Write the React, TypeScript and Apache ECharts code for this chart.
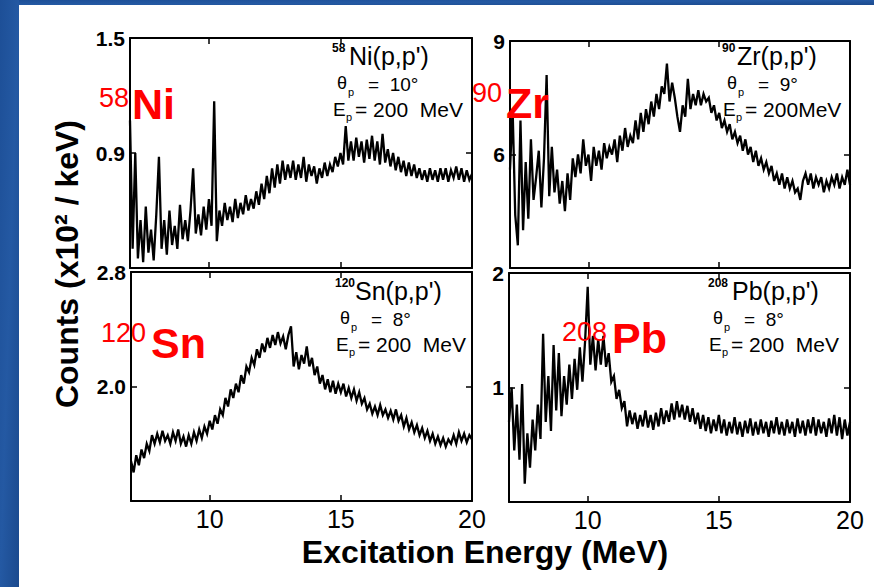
import React, { useEffect, useRef } from "react";
import * as echarts from "echarts";

// Excitation energy grid (MeV)
const energyMeV = [
  7.0, 7.1, 7.2, 7.3, 7.4, 7.5, 7.6, 7.7, 7.8, 7.9,
  8.0, 8.1, 8.2, 8.3, 8.4, 8.5, 8.6, 8.7, 8.8, 8.9,
  9.0, 9.1, 9.2, 9.3, 9.4, 9.5, 9.6, 9.7, 9.8, 9.9,
  10.0, 10.1, 10.2, 10.3, 10.4, 10.5, 10.6, 10.7, 10.8, 10.9,
  11.0, 11.1, 11.2, 11.3, 11.4, 11.5, 11.6, 11.7, 11.8, 11.9,
  12.0, 12.1, 12.2, 12.3, 12.4, 12.5, 12.6, 12.7, 12.8, 12.9,
  13.0, 13.1, 13.2, 13.3, 13.4, 13.5, 13.6, 13.7, 13.8, 13.9,
  14.0, 14.1, 14.2, 14.3, 14.4, 14.5, 14.6, 14.7, 14.8, 14.9,
  15.0, 15.1, 15.2, 15.3, 15.4, 15.5, 15.6, 15.7, 15.8, 15.9,
  16.0, 16.1, 16.2, 16.3, 16.4, 16.5, 16.6, 16.7, 16.8, 16.9,
  17.0, 17.1, 17.2, 17.3, 17.4, 17.5, 17.6, 17.7, 17.8, 17.9,
  18.0, 18.1, 18.2, 18.3, 18.4, 18.5, 18.6, 18.7, 18.8, 18.9,
  19.0, 19.1, 19.2, 19.3, 19.4, 19.5, 19.6, 19.7, 19.8, 19.9,
  20.0,
];

// 58Ni(p,p') counts (x10^2 / keV)
const ni58 = [
  1.07, 0.40, 0.90, 0.35, 0.55, 0.33, 0.62, 0.38, 0.50, 0.34,
  0.58, 0.88, 0.40, 0.55, 0.37, 0.60, 0.42, 0.52, 0.40, 0.63,
  0.45, 0.55, 0.44, 0.60, 0.82, 0.48, 0.58, 0.47, 0.62, 0.50,
  0.66, 0.52, 1.17, 0.44, 0.60, 0.52, 0.64, 0.55, 0.62, 0.54,
  0.66, 0.56, 0.64, 0.58, 0.68, 0.60, 0.66, 0.61, 0.70, 0.63,
  0.74, 0.66, 0.78, 0.69, 0.82, 0.72, 0.84, 0.74, 0.86, 0.76,
  0.84, 0.77, 0.86, 0.76, 0.84, 0.77, 0.88, 0.75, 0.84, 0.78,
  0.83, 0.74, 0.82, 0.77, 0.85, 0.78, 0.84, 0.80, 0.88, 0.83,
  0.90, 0.84, 1.04, 0.86, 0.96, 0.86, 0.98, 0.88, 0.96, 0.85,
  0.97, 0.87, 0.99, 0.86, 0.96, 0.84, 1.00, 0.85, 0.92, 0.83,
  0.90, 0.81, 0.88, 0.80, 0.86, 0.78, 0.85, 0.78, 0.84, 0.77,
  0.82, 0.76, 0.81, 0.75, 0.82, 0.76, 0.81, 0.75, 0.82, 0.76,
  0.82, 0.75, 0.81, 0.77, 0.83, 0.76, 0.82, 0.75, 0.81, 0.76,
  0.79,
];

// 90Zr(p,p') counts
const zr90 = [
  5.6, 7.2, 4.4, 3.6, 6.9, 4.0, 5.8, 4.3, 6.4, 4.8,
  5.4, 6.1, 4.6, 5.9, 8.1, 4.9, 6.2, 5.0, 5.6, 4.7,
  5.3, 4.5, 5.5, 4.8, 5.9, 5.4, 6.0, 5.5, 6.4, 5.7,
  6.0, 5.3, 6.2, 5.7, 6.1, 5.6, 6.3, 5.9, 6.2, 6.0,
  6.4, 5.8, 6.5, 6.1, 6.7, 6.2, 6.5, 6.3, 6.9, 6.4,
  7.1, 6.6, 7.2, 6.8, 7.4, 7.0, 7.6, 7.2, 7.8, 7.6,
  8.4, 7.4, 7.9, 7.5, 7.0, 6.6, 7.3, 7.0, 8.0, 7.2,
  7.6, 7.3, 7.7, 7.3, 7.6, 7.4, 7.5, 7.1, 7.3, 6.9,
  7.1, 6.7, 6.9, 6.6, 6.8, 6.4, 6.6, 6.3, 6.5, 6.1,
  6.4, 6.0, 6.2, 5.8, 6.1, 5.7, 5.9, 5.6, 5.8, 5.5,
  5.7, 5.3, 5.5, 5.2, 5.5, 5.1, 5.4, 5.1, 5.3, 5.0,
  5.1, 4.8, 5.3, 5.5, 5.2, 5.5, 5.1, 5.4, 5.2, 5.4,
  5.0, 5.3, 5.1, 5.4, 5.2, 5.5, 5.1, 5.4, 5.2, 5.6,
  5.2,
];

// 120Sn(p,p') counts
const sn120 = [
  1.48, 1.40, 1.52, 1.45, 1.56, 1.50, 1.60, 1.55, 1.66, 1.60,
  1.67, 1.61, 1.69, 1.62, 1.66, 1.60, 1.68, 1.62, 1.70, 1.60,
  1.65, 1.58, 1.66, 1.60, 1.68, 1.62, 1.70, 1.64, 1.72, 1.67,
  1.76, 1.70, 1.80, 1.74, 1.84, 1.80, 1.92, 1.86, 1.98, 1.92,
  2.02, 1.96, 2.08, 2.02, 2.14, 2.10, 2.20, 2.15, 2.26, 2.20,
  2.30, 2.24, 2.34, 2.27, 2.36, 2.29, 2.38, 2.30, 2.35, 2.26,
  2.36, 2.42, 2.14, 2.24, 2.12, 2.22, 2.16, 2.28, 2.14, 2.20,
  2.08, 2.14, 2.02, 2.08, 1.98, 2.05, 1.96, 2.04, 1.95, 2.02,
  1.96, 2.02, 1.93, 1.99, 1.92, 1.98, 1.90, 1.96, 1.88, 1.92,
  1.84, 1.88, 1.81, 1.86, 1.80, 1.87, 1.80, 1.84, 1.78, 1.83,
  1.77, 1.84, 1.76, 1.80, 1.72, 1.78, 1.70, 1.75, 1.68, 1.73,
  1.66, 1.71, 1.64, 1.69, 1.62, 1.67, 1.60, 1.65, 1.59, 1.64,
  1.58, 1.63, 1.60, 1.66, 1.60, 1.68, 1.62, 1.67, 1.61, 1.66,
  1.63,
];

// 208Pb(p,p') counts
const pb208 = [
  0.70, 1.00, 0.45, 0.85, 0.37, 1.03, 0.16, 0.60, 0.30, 0.72,
  0.45, 0.85, 0.55, 1.47, 0.70, 1.10, 0.62, 1.37, 0.80, 1.30,
  0.75, 1.10, 0.85, 1.20, 0.90, 1.25, 0.98, 1.35, 1.05, 1.40,
  1.88, 1.20, 1.45, 1.15, 1.42, 1.20, 1.45, 1.18, 1.30, 1.05,
  1.10, 0.90, 0.98, 0.82, 0.88, 0.66, 0.80, 0.68, 0.78, 0.64,
  0.76, 0.66, 0.80, 0.65, 0.76, 0.63, 0.78, 0.66, 0.82, 0.68,
  0.80, 0.70, 0.86, 0.72, 0.88, 0.74, 0.85, 0.72, 0.84, 0.70,
  0.82, 0.68, 0.78, 0.64, 0.76, 0.62, 0.74, 0.60, 0.72, 0.62,
  0.76, 0.60, 0.72, 0.58, 0.70, 0.60, 0.74, 0.59, 0.70, 0.57,
  0.71, 0.60, 0.73, 0.58, 0.70, 0.59, 0.72, 0.60, 0.70, 0.57,
  0.71, 0.60, 0.74, 0.59, 0.70, 0.58, 0.72, 0.60, 0.70, 0.57,
  0.73, 0.60, 0.71, 0.58, 0.72, 0.60, 0.74, 0.58, 0.72, 0.60,
  0.70, 0.57, 0.73, 0.60, 0.76, 0.58, 0.74, 0.55, 0.72, 0.58,
  0.70,
];

// Axis ticks / labels
const xTickValues = [10, 15];
const xLabelValues = [10, 15, 20];
const niYRange = [0.3, 1.5];
const zrYRange = [3, 9];
const snYRange = [1.2, 2.8];
const pbYRange = [0, 2];
const niYLabels = [0.9, 1.5];
const zrYLabels = [6, 9];
const snYLabels = [2.0, 2.8];
const pbYLabels = [1, 2];
const niYTicks = [0.9];
const zrYTicks = [6];
const snYTicks = [2.0];
const pbYTicks = [1];

const FONT = "'Liberation Sans', Arial, sans-serif";

function pairs(vals: number[]) {
  return energyMeV.map((e, i) => [e, vals[i]]);
}

function xAxisDef(gridIndex: number, position: string, showLabels: boolean) {
  return {
    type: "value",
    gridIndex,
    position,
    min: 7,
    max: 20,
    axisLine: { show: true, onZero: false, lineStyle: { color: "#000", width: 2 } },
    axisTick: { show: true, inside: true, length: 6, customValues: xTickValues, lineStyle: { color: "#000", width: 1.5 } },
    axisLabel: {
      show: showLabels,
      customValues: xLabelValues,
      color: "#000",
      fontFamily: "'Liberation Sans Narrow', " + FONT,
      fontSize: 25,
      margin: 5,
    },
    splitLine: { show: false },
  };
}

function yAxisDef(gridIndex: number, position: string, range: number[], labels: number[] | null, ticks: number[], decimals: number) {
  return {
    type: "value",
    gridIndex,
    position,
    min: range[0],
    max: range[1],
    axisLine: { show: true, onZero: false, lineStyle: { color: "#000", width: 2 } },
    axisTick: { show: true, inside: true, length: 6, customValues: ticks, lineStyle: { color: "#000", width: 1.5 } },
    axisLabel: labels
      ? {
          show: true,
          customValues: labels,
          color: "#000",
          fontFamily: FONT,
          fontWeight: "bold",
          fontSize: 21,
          margin: 5,
          formatter: (v: number) => v.toFixed(decimals),
        }
      : { show: false },
    splitLine: { show: false },
  };
}

function txt(x: number, y: number, text: string, fontSize: number, extra: any = {}) {
  return {
    type: "text",
    x,
    y,
    z: 100,
    style: {
      text,
      fontSize,
      fontFamily: extra.fontFamily || FONT,
      fontWeight: extra.fontWeight || "normal",
      fill: extra.fill || "#000",
      align: extra.align || "left",
      verticalAlign: "middle",
    },
    rotation: extra.rotation || 0,
  };
}

function annotation(x: number, y: number, isotope: string, reaction: string, angle: string, energy: string, dx: number) {
  return [
    txt(x, y - 8, isotope, 12, { fontWeight: "bold" }),
    txt(x + dx, y, reaction, 25),
    txt(x + 5, y + 27, "θ", 18),
    txt(x + 16, y + 36, "p", 11),
    txt(x + 36, y + 28, angle, 19),
    txt(x + 1, y + 53, "E", 19),
    txt(x + 14, y + 61, "p", 11),
    txt(x + 23, y + 53, energy, 21),
  ];
}

export default function App() {
  const ref = useRef<HTMLDivElement>(null);

  useEffect(() => {
    if (!ref.current) return;
    const chart = echarts.init(ref.current, null, { renderer: "svg" });
    const grids = [
      { left: 130, top: 38, width: 342, height: 230 },
      { left: 510, top: 41, width: 340, height: 227 },
      { left: 131, top: 272, width: 341, height: 229 },
      { left: 509, top: 273, width: 341, height: 229 },
    ];
    const seriesData = [ni58, zr90, sn120, pb208];
    const blue = {
      type: "linear", x: 0, y: 0, x2: 1, y2: 1,
      colorStops: [
        { offset: 0, color: "#1d4f97" },
        { offset: 0.5, color: "#2459a3" },
        { offset: 1, color: "#1b4a8e" },
      ],
    };
    const graphic: any[] = [
      { type: "rect", shape: { x: 0, y: 0, width: 874, height: 5 }, style: { fill: blue }, z: 0 },
      { type: "rect", shape: { x: 0, y: 0, width: 19, height: 587 }, style: { fill: blue }, z: 0 },
      txt(67, 264, "Counts (x10² / keV)", 32, { fontWeight: "bold", align: "center", rotation: Math.PI / 2 }),
      txt(485, 552, "Excitation Energy (MeV)", 32, { fontWeight: "bold", align: "center" }),
      // red isotope labels
      txt(99, 98, "58", 27, { fill: "#ff0000" }),
      txt(132, 104, "Ni", 43, { fill: "#ff0000", fontWeight: "bold" }),
      txt(472, 93, "90", 27, { fill: "#ff0000" }),
      txt(506, 103, "Zr", 43, { fill: "#ff0000", fontWeight: "bold" }),
      txt(101, 333, "120", 27, { fill: "#ff0000" }),
      txt(151, 343, "Sn", 43, { fill: "#ff0000", fontWeight: "bold" }),
      txt(562, 332, "208", 27, { fill: "#ff0000" }),
      txt(612, 338, "Pb", 43, { fill: "#ff0000", fontWeight: "bold" }),
      ...annotation(332, 56, "58", "Ni(p,p')", "=  10°", "= 200  MeV", 17),
      ...annotation(722, 56, "90", "Zr(p,p')", "=  9°", "= 200MeV", 15),
      ...annotation(335, 291, "120", "Sn(p,p')", "=  8°", "= 200  MeV", 20),
      ...annotation(708, 291, "208", "Pb(p,p')", "=  8°", "= 200  MeV", 24),
    ];

    const option: any = {
      animation: false,
      backgroundColor: "#ffffff",
      grid: grids.map((g) => ({ ...g, containLabel: false })),
      xAxis: [
        xAxisDef(0, "bottom", false),
        xAxisDef(1, "bottom", false),
        xAxisDef(2, "bottom", true),
        xAxisDef(3, "bottom", true),
        xAxisDef(0, "top", false),
        xAxisDef(1, "top", false),
        xAxisDef(2, "top", false),
        xAxisDef(3, "top", false),
      ],
      yAxis: [
        yAxisDef(0, "left", niYRange, niYLabels, niYTicks, 1),
        yAxisDef(1, "left", zrYRange, zrYLabels, zrYTicks, 0),
        yAxisDef(2, "left", snYRange, snYLabels, snYTicks, 1),
        yAxisDef(3, "left", pbYRange, pbYLabels, pbYTicks, 0),
        yAxisDef(0, "right", niYRange, null, niYTicks, 1),
        yAxisDef(1, "right", zrYRange, null, zrYTicks, 0),
        yAxisDef(2, "right", snYRange, null, snYTicks, 1),
        yAxisDef(3, "right", pbYRange, null, pbYTicks, 0),
      ],
      series: seriesData.map((vals, i) => ({
        type: "line",
        xAxisIndex: i,
        yAxisIndex: i,
        data: pairs(vals),
        symbol: "none",
        showSymbol: false,
        lineStyle: { color: "#000", width: 2.3, join: "miter" },
        z: 5,
      })),
      graphic,
    };
    chart.setOption(option);
    return () => chart.dispose();
  }, []);

  return (
    <div
      ref={ref}
      style={{ position: "absolute", left: 0, top: 0, width: 874, height: 587 }}
    />
  );
}
